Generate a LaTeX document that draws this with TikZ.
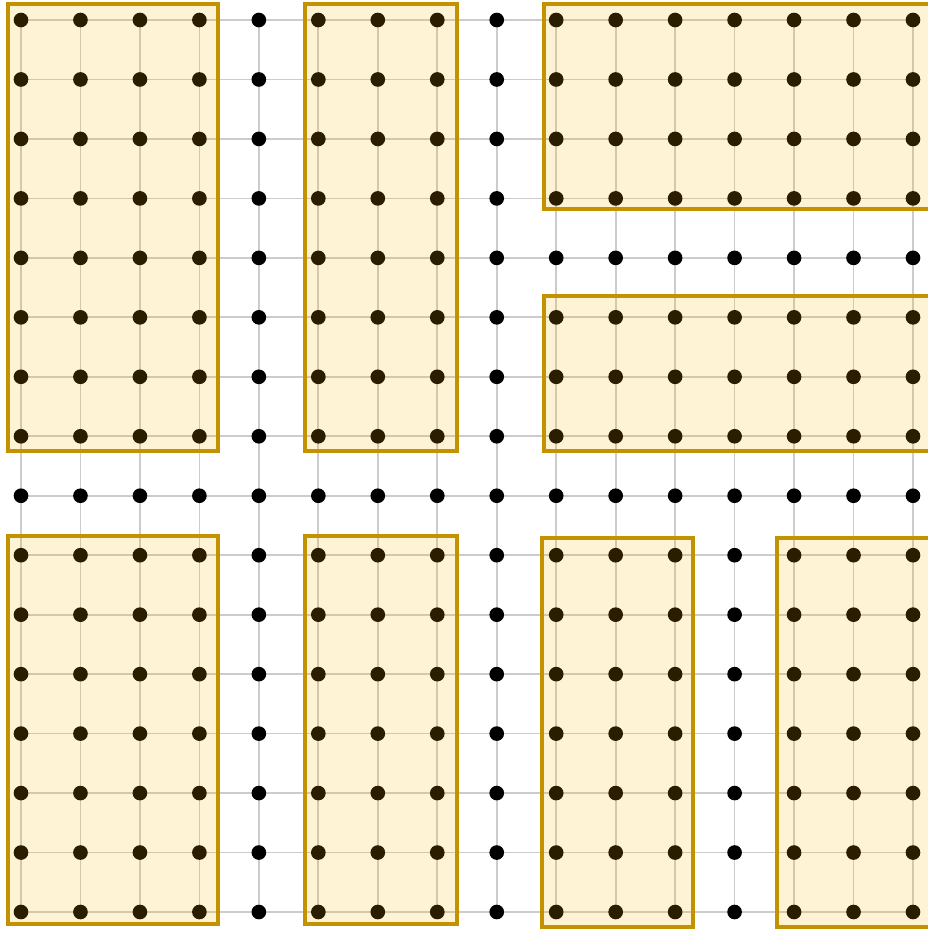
\documentclass[tikz,border=0pt]{standalone}
\begin{document}
\begin{tikzpicture}[x=0.75pt,y=-0.75pt,
  gridline/.style={draw={rgb,255:red,204;green,204;blue,204},line width=1.3pt},
  dotnode/.style={circle,fill=black,inner sep=0pt,minimum size=11pt},
  block/.style={draw={rgb,255:red,196;green,146;blue,0},line width=2.3pt,
    fill={rgb,255:red,255;green,182;blue,0},fill opacity=0.165}]
\useasboundingbox (0,0) rectangle (928,929);
\pgfmathsetmacro{\sp}{892/15}
% grid lines
\foreach \i in {0,...,15}{
  \draw[gridline] ({21+\i*\sp},20) -- ({21+\i*\sp},912);
  \draw[gridline] (21,{20+\i*\sp}) -- (913,{20+\i*\sp});
}
% dots
\foreach \i in {0,...,15}{
  \foreach \j in {0,...,15}{
    \node[dotnode] (d-\i-\j) at ({21+\i*\sp},{20+\j*\sp}) {};
  }
}
% blocks
\path[block] (8,4) rectangle (218,451);
\path[block] (305,4) rectangle (457,451);
\path[block] (544,4) rectangle (940,209);
\path[block] (544,296) rectangle (940,451);
\path[block] (8,536) rectangle (218,924);
\path[block] (305,536) rectangle (457,924);
\path[block] (542,538) rectangle (693,927);
\path[block] (777,538) rectangle (940,927);
\end{tikzpicture}
\end{document}
